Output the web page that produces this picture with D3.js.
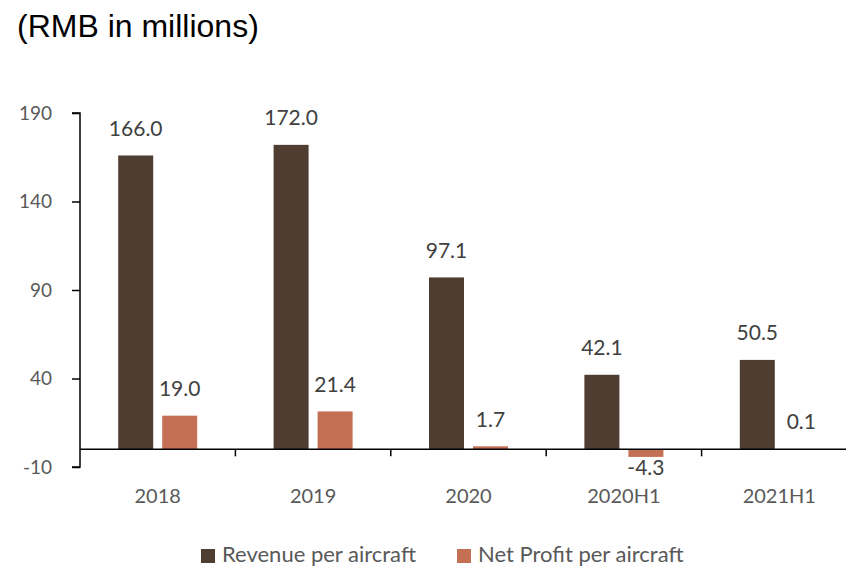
<!DOCTYPE html>
<html>
<head>
<meta charset="utf-8">
<script src="https://cdn.jsdelivr.net/npm/d3@7"></script>
<style>
  html, body { margin: 0; padding: 0; background: #fff; }
  svg text { font-family: Lato, "Open Sans", sans-serif; }
</style>
</head>
<body>
<svg id="chart" width="846" height="566"></svg>
<script>
// Per-aircraft figures, RMB millions
const categories = ["2018", "2019", "2020", "2020H1", "2021H1"];
const revenue = [166.0, 172.0, 97.1, 42.1, 50.5];
const netProfit = [19.0, 21.4, 1.7, -4.3, 0.1];
const seriesNames = ["Revenue per aircraft", "Net Profit per aircraft"];
const yTicks = [-10, 40, 90, 140, 190];

const colors = ["#4f3d31", "#c47055"];
const textColor = "#595959";
const labelColor = "#404040";

const svg = d3.select("#chart");

const margin = { left: 80, right: -11, top: 113, bottom: 99 };
const width = 846 - margin.left - margin.right;
const height = 566 - margin.top - margin.bottom;

const g = svg.append("g").attr("transform", `translate(${margin.left},${margin.top})`);

const x = d3.scaleBand().domain(categories).range([0, width]).paddingInner(0).paddingOuter(0);
const y = d3.scaleLinear().domain([-10, 190]).range([height, 0]);

const barW = 35, gap = 9;
const offsets = [-(gap / 2 + barW), gap / 2];

// Title
svg.append("text")
  .attr("x", 17).attr("y", 37)
  .style("font-family", "Arial, 'Liberation Sans', sans-serif")
  .style("font-size", "32px")
  .attr("fill", "#000")
  .text("(RMB in millions)");

// Bars and value labels
const seriesData = [revenue, netProfit];
seriesData.forEach((vals, si) => {
  g.selectAll(null)
    .data(vals)
    .enter()
    .append("rect")
    .attr("x", (d, i) => x(categories[i]) + x.bandwidth() / 2 + offsets[si])
    .attr("width", barW)
    .attr("y", d => y(Math.max(0, d)))
    .attr("height", d => Math.abs(y(d) - y(0)))
    .attr("fill", colors[si]);

  g.selectAll(null)
    .data(vals)
    .enter()
    .append("text")
    .attr("x", (d, i) => x(categories[i]) + x.bandwidth() / 2 + offsets[si] + barW / 2)
    .attr("y", d => d >= 0 ? y(d) - 25 : y(d) + 13)
    .attr("text-anchor", "middle")
    .attr("dominant-baseline", "middle")
    .attr("fill", labelColor)
    .style("font-size", "21px")
    .text(d => d.toFixed(1));
});

// Y axis
const yAxis = d3.axisLeft(y).tickValues(yTicks).tickSize(8).tickPadding(20).tickFormat(d => String(d));
const ya = g.append("g").call(yAxis);
ya.select(".domain").attr("d", `M-8,${y(190)}H0V${y(-10)}H-8`).attr("stroke", "#000").attr("stroke-width", 1.5);
ya.selectAll(".tick line").attr("stroke", "#000").attr("stroke-width", 1.5);
ya.selectAll(".tick text").attr("fill", textColor).style("font-size", "19px").style("font-family", "Lato, 'Open Sans', sans-serif");

// Category axis at zero
const xa = g.append("g").attr("transform", `translate(0,${y(0)})`);
xa.append("line").attr("x1", 0).attr("x2", width).attr("stroke", "#000").attr("stroke-width", 1.5);
xa.selectAll(null)
  .data(categories.slice(1))
  .enter()
  .append("line")
  .attr("x1", d => x(d)).attr("x2", d => x(d))
  .attr("y1", 0).attr("y2", 7)
  .attr("stroke", "#000").attr("stroke-width", 1.5);
xa.selectAll(null)
  .data(categories)
  .enter()
  .append("text")
  .attr("x", d => x(d) + x.bandwidth() / 2)
  .attr("y", 49)
  .attr("text-anchor", "middle")
  .attr("dominant-baseline", "middle")
  .attr("fill", textColor)
  .style("font-size", "20px")
  .text(d => d);

// Legend
const legendItems = [{ x: 201, name: seriesNames[0], color: colors[0] }, { x: 457, name: seriesNames[1], color: colors[1] }];
const lg = svg.append("g");
legendItems.forEach(it => {
  lg.append("rect").attr("x", it.x).attr("y", 549).attr("width", 14).attr("height", 14).attr("fill", it.color);
  lg.append("text").attr("x", it.x + 21).attr("y", 556)
    .attr("dominant-baseline", "middle")
    .attr("fill", textColor)
    .style("font-size", "22px")
    .text(it.name);
});
</script>
</body>
</html>
